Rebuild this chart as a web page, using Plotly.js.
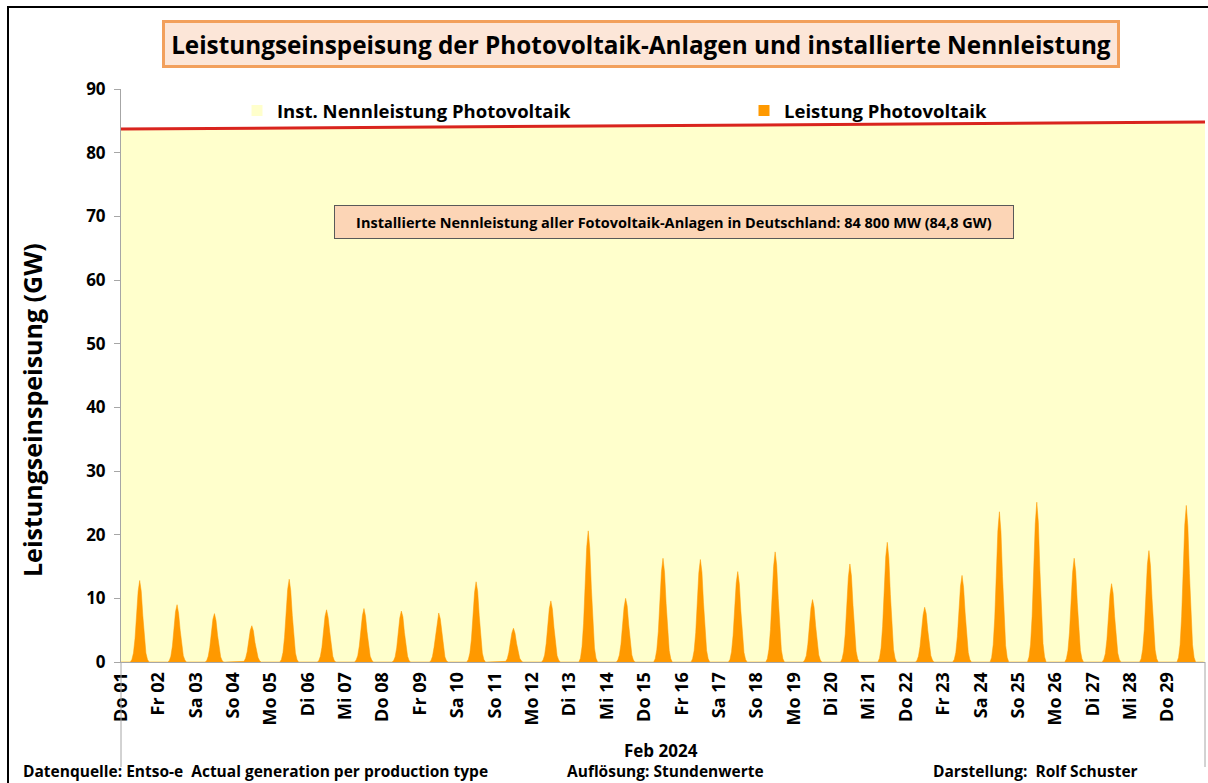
<!DOCTYPE html>
<html>
<head>
<meta charset="utf-8">
<script src="https://cdn.plot.ly/plotly-3.0.1.min.js"></script>
<style>html,body{margin:0;padding:0;background:#fff;}#chart{width:1208px;height:783px;}</style>
</head>
<body>
<div id="chart"></div>
<script>
// Day labels (Feb 2024)
const tageLabels = ["Do 01","Fr 02","Sa 03","So 04","Mo 05","Di 06","Mi 07","Do 08","Fr 09","Sa 10",
  "So 11","Mo 12","Di 13","Mi 14","Do 15","Fr 16","Sa 17","So 18","Mo 19","Di 20",
  "Mi 21","Do 22","Fr 23","Sa 24","So 25","Mo 26","Di 27","Mi 28","Do 29"];

// First daylight hour of the hourly values below (hours outside are 0)
const ersteStunde = 7;

// Leistung Photovoltaik (GW), hourly values 07:00..17:00 per day
const leistungPV = [
  [0.4, 1.4, 3.7, 7.3, 11.1, 12.8, 11.1, 7.3, 3.7, 1.4, 0.4],
  [0.2, 0.9, 2.5, 5.3, 7.9, 9.0, 7.6, 5.0, 2.7, 1.0, 0.3],
  [0.2, 0.9, 2.3, 4.4, 6.7, 7.6, 6.5, 4.2, 2.1, 0.8, 0.2],
  [0.1, 0.6, 1.6, 3.3, 5.0, 5.7, 4.9, 3.1, 1.7, 0.7, 0.2],
  [0.4, 1.5, 3.9, 7.5, 11.4, 13.0, 11.2, 7.3, 3.7, 1.4, 0.4],
  [0.2, 0.9, 2.3, 4.6, 7.2, 8.2, 7.0, 4.8, 2.4, 0.9, 0.2],
  [0.3, 1.0, 2.5, 4.8, 7.3, 8.4, 7.2, 4.7, 2.4, 0.9, 0.3],
  [0.2, 0.8, 2.2, 4.5, 6.9, 8.0, 7.1, 4.6, 2.4, 0.9, 0.2],
  [0.2, 0.9, 2.3, 4.4, 6.6, 7.7, 6.8, 4.5, 2.2, 0.8, 0.2],
  [0.4, 1.4, 3.6, 7.1, 10.9, 12.6, 11.1, 7.3, 3.8, 1.4, 0.4],
  [0.1, 0.5, 1.5, 3.1, 4.6, 5.3, 4.5, 2.9, 1.5, 0.6, 0.2],
  [0.3, 1.1, 2.9, 5.6, 8.4, 9.6, 8.3, 5.4, 2.7, 1.0, 0.3],
  [0.6, 2.4, 6.1, 11.8, 18.0, 20.6, 17.8, 11.6, 5.9, 2.2, 0.6],
  [0.3, 1.1, 2.8, 5.6, 8.6, 10.0, 8.8, 5.8, 3.0, 1.1, 0.3],
  [0.5, 1.9, 4.8, 9.4, 14.2, 16.3, 14.1, 9.2, 4.6, 1.8, 0.5],
  [0.5, 1.8, 4.6, 9.1, 14.0, 16.1, 14.1, 9.3, 4.8, 1.8, 0.5],
  [0.4, 1.6, 4.2, 8.2, 12.4, 14.2, 12.3, 8.0, 4.0, 1.5, 0.4],
  [0.5, 2.0, 5.1, 9.9, 15.0, 17.3, 15.2, 10.0, 5.1, 1.9, 0.5],
  [0.3, 1.0, 2.8, 5.5, 8.5, 9.8, 8.6, 5.7, 2.9, 1.1, 0.3],
  [0.5, 1.7, 4.4, 8.7, 13.3, 15.4, 13.5, 8.9, 4.6, 1.7, 0.5],
  [0.6, 2.2, 5.6, 10.8, 16.5, 18.8, 16.3, 10.6, 5.4, 2.0, 0.6],
  [0.2, 0.9, 2.4, 4.8, 7.4, 8.6, 7.6, 5.0, 2.6, 1.0, 0.3],
  [0.4, 1.5, 4.0, 7.8, 11.9, 13.6, 11.7, 7.7, 3.9, 1.5, 0.4],
  [0.7, 2.7, 6.9, 13.6, 20.6, 23.6, 20.4, 13.4, 6.8, 2.6, 0.7],
  [0.8, 2.8, 7.2, 14.2, 21.7, 25.1, 21.9, 14.4, 7.4, 2.9, 0.8],
  [0.5, 1.8, 4.7, 9.2, 14.1, 16.3, 14.2, 9.3, 4.8, 1.8, 0.5],
  [0.4, 1.3, 3.5, 6.9, 10.6, 12.3, 10.8, 7.1, 3.6, 1.4, 0.4],
  [0.5, 2.0, 5.1, 10.0, 15.3, 17.5, 15.1, 9.9, 5.0, 1.9, 0.5],
  [0.7, 2.7, 7.2, 14.1, 21.5, 24.6, 21.3, 13.9, 7.0, 2.7, 0.7]
];

// Installierte Nennleistung (GW) at start and end of the month
const nennZeit = [0, 696];
const nennLeistung = [83.7, 84.8];

// Build hourly series (night hours = 0)
const xs = [], ys = [];
leistungPV.forEach((tag, d) => {
  for (let h = 0; h < 24; h++) {
    const i = h - ersteStunde;
    xs.push(d * 24 + h);
    ys.push(i >= 0 && i < tag.length ? tag[i] : 0);
  }
});
const tickPos = tageLabels.map((_, i) => i * 24);

const F = "'Open Sans', 'Noto Sans', sans-serif";
const traces = [
  {x: nennZeit, y: nennLeistung, type: 'scatter', mode: 'lines', fill: 'tozeroy',
   fillcolor: '#FFFFCC', line: {color: '#D9241E', width: 3}, showlegend: false, hoverinfo: 'skip'},
  {x: xs, y: ys, type: 'scatter', mode: 'lines', fill: 'tozeroy',
   fillcolor: '#FF9900', line: {color: '#FF9900', width: 0.5}, showlegend: false},
  {x: [null], y: [null], type: 'scatter', mode: 'markers', name: 'Inst. Nennleistung Photovoltaik',
   marker: {symbol: 'square', size: 11, color: '#FFFFCC'}, legend: 'legend'},
  {x: [null], y: [null], type: 'scatter', mode: 'markers', name: 'Leistung Photovoltaik',
   marker: {symbol: 'square', size: 11, color: '#FF9900'}, legend: 'legend2'}
];

const px2x = p => (p - 121) / 1084;
const px2y = p => (662 - p) / 573;
const legFont = {family: F, size: 18.5, weight: 'bold', color: '#000'};

const layout = {
  width: 1208, height: 783,
  margin: {l: 121, r: 3, t: 89, b: 121},
  paper_bgcolor: '#FFFFFF', plot_bgcolor: '#FFFFFF',
  font: {family: F, color: '#000'},
  showlegend: true,
  legend: {orientation: 'h', x: px2x(237), xanchor: 'left', y: px2y(111), yanchor: 'middle',
    bgcolor: 'rgba(0,0,0,0)', font: legFont},
  legend2: {orientation: 'h', x: px2x(744), xanchor: 'left', y: px2y(111), yanchor: 'middle',
    bgcolor: 'rgba(0,0,0,0)', font: legFont},
  xaxis: {range: [0, 696], tickvals: tickPos, ticktext: tageLabels, tickangle: -90,
    showgrid: false, zeroline: false, showline: true, linecolor: '#A6A6A6', linewidth: 1,
    ticks: '', ticklabelstandoff: 2,
    tickfont: {family: F, size: 18, weight: 'bold', color: '#000'}, fixedrange: true},
  yaxis: {range: [0, 90], dtick: 10, showgrid: true, gridcolor: '#A6A6A6', griddash: '4px,4px',
    zeroline: false, showline: true, linecolor: '#A6A6A6', ticks: 'outside', ticklen: 6,
    tickcolor: '#A6A6A6', ticklabelstandoff: 5,
    tickfont: {family: F, size: 17, weight: 'bold', color: '#000'}, fixedrange: true},
  shapes: [
    {type: 'rect', xref: 'paper', yref: 'paper', x0: px2x(8), x1: px2x(1300), y0: px2y(820), y1: px2y(7),
     line: {color: '#000', width: 2}},
    {type: 'line', xref: 'paper', yref: 'paper', x0: 0, x1: 0, y0: px2y(767), y1: 0,
     line: {color: '#A6A6A6', width: 1}},
    {type: 'line', xref: 'paper', yref: 'paper', x0: 1, x1: 1, y0: px2y(767), y1: 0,
     line: {color: '#A6A6A6', width: 1}}
  ],
  annotations: [
    {text: 'Leistungseinspeisung der Photovoltaik-Anlagen und installierte Nennleistung',
     xref: 'paper', yref: 'paper', x: px2x(641), y: px2y(44), xanchor: 'center', yanchor: 'middle',
     showarrow: false, font: {family: F, size: 24.3, weight: 'bold', color: '#000'},
     bgcolor: '#FCE6D8', bordercolor: '#F2A05C', borderwidth: 3, width: 950, height: 40, borderpad: 1},
    {text: 'Installierte Nennleistung aller Fotovoltaik-Anlagen in Deutschland: 84 800 MW (84,8 GW)',
     xref: 'paper', yref: 'paper', x: px2x(674), y: px2y(222), xanchor: 'center', yanchor: 'middle',
     showarrow: false, font: {family: F, size: 14.5, weight: 'bold', color: '#000'},
     bgcolor: '#FCD5B6', bordercolor: '#595959', borderwidth: 1, width: 676, height: 30, borderpad: 1},
    {text: 'Leistungseinspeisung (GW)', xref: 'paper', yref: 'paper', x: px2x(32), y: px2y(410),
     xanchor: 'center', yanchor: 'middle', textangle: -90, showarrow: false,
     font: {family: F, size: 25, weight: 'bold', color: '#000'}},
    {text: 'Feb 2024', xref: 'paper', yref: 'paper', x: px2x(661), y: px2y(750),
     xanchor: 'center', yanchor: 'middle', showarrow: false, borderpad: 0,
     font: {family: F, size: 17, weight: 'bold', color: '#000'}},
    {text: 'Datenquelle: Entso-e  Actual generation per production type', xref: 'paper', yref: 'paper',
     x: px2x(22), y: px2y(783), xanchor: 'left', yanchor: 'bottom', showarrow: false, borderpad: 0,
     font: {family: F, size: 15.5, weight: 'bold', color: '#000'}},
    {text: 'Auflösung: Stundenwerte', xref: 'paper', yref: 'paper',
     x: px2x(566), y: px2y(783), xanchor: 'left', yanchor: 'bottom', showarrow: false, borderpad: 0,
     font: {family: F, size: 15.5, weight: 'bold', color: '#000'}},
    {text: 'Darstellung:  Rolf Schuster', xref: 'paper', yref: 'paper',
     x: px2x(932), y: px2y(783), xanchor: 'left', yanchor: 'bottom', showarrow: false, borderpad: 0,
     font: {family: F, size: 15.5, weight: 'bold', color: '#000'}}
  ]
};

Plotly.newPlot('chart', traces, layout, {displayModeBar: false, staticPlot: true});
</script>
</body>
</html>
